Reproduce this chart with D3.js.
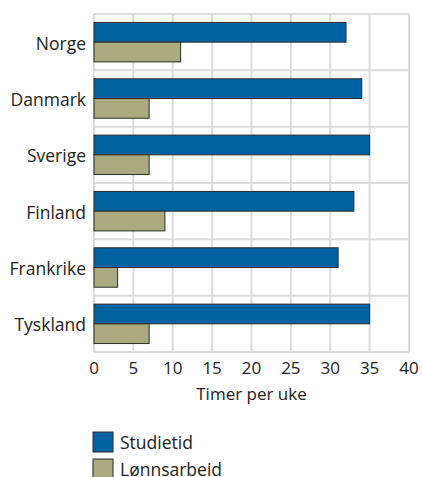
<!DOCTYPE html>
<html>
<head>
<meta charset="utf-8">
<script src="https://cdn.jsdelivr.net/npm/d3@7"></script>
<style>
  body { margin: 0; background: #fff; }
  text { font-family: "Open Sans", sans-serif; fill: #222; }
</style>
</head>
<body>
<div id="chart"></div>
<script>
// Data
const countries = ["Norge", "Danmark", "Sverige", "Finland", "Frankrike", "Tyskland"];
const studietid = [32, 34, 35, 33, 31, 35];
const lonnsarbeid = [11, 7, 7, 9, 3, 7];
const seriesNames = ["Studietid", "Lønnsarbeid"];
const seriesColors = ["#0062a0", "#abab7f"];
const xTicks = [0, 5, 10, 15, 20, 25, 30, 35, 40];

const width = 422;
const height = 477;
const margin = { top: 14, right: 13, bottom: 125, left: 94 };
const plotW = width - margin.left - margin.right;
const plotH = height - margin.top - margin.bottom;

const svg = d3.select("#chart")
    .append("svg")
    .attr("width", width)
    .attr("height", height);

const g = svg.append("g")
    .attr("transform", `translate(${margin.left},${margin.top})`);

const x = d3.scaleLinear().domain([0, 40]).range([0, plotW]);
const y = d3.scaleBand().domain(countries).range([0, plotH]).paddingInner(0.3).paddingOuter(0.15);
const yInner = d3.scaleBand().domain(seriesNames).range([0, y.bandwidth()]);

// grid - vertical lines
g.selectAll("line.vgrid")
    .data(xTicks)
    .enter().append("line")
    .attr("class", "vgrid")
    .attr("x1", d => x(d)).attr("x2", d => x(d))
    .attr("y1", 0).attr("y2", plotH)
    .attr("stroke", "#dcdcdc")
    .attr("stroke-width", 2);

// grid - horizontal lines between categories
const step = plotH / countries.length;
g.selectAll("line.hgrid")
    .data(d3.range(countries.length + 1))
    .enter().append("line")
    .attr("class", "hgrid")
    .attr("x1", 0).attr("x2", plotW)
    .attr("y1", d => d * step).attr("y2", d => d * step)
    .attr("stroke", "#dcdcdc")
    .attr("stroke-width", 2);

const rows = countries.map((c, i) => ({ country: c, values: [studietid[i], lonnsarbeid[i]] }));

const groups = g.selectAll("g.row")
    .data(rows)
    .enter().append("g")
    .attr("class", "row")
    .attr("transform", d => `translate(0,${y(d.country)})`);

groups.selectAll("rect")
    .data(d => d.values.map((v, j) => ({ key: seriesNames[j], value: v, color: seriesColors[j] })))
    .enter().append("rect")
    .attr("x", x(0))
    .attr("y", d => yInner(d.key))
    .attr("width", d => x(d.value) - x(0))
    .attr("height", yInner.bandwidth())
    .attr("fill", d => d.color)
    .attr("stroke", "#2a2a2a")
    .attr("stroke-width", 1);

// category labels
g.selectAll("text.cat")
    .data(countries)
    .enter().append("text")
    .attr("class", "cat")
    .attr("x", -8)
    .attr("y", d => y(d) + y.bandwidth() / 2)
    .attr("dy", "0.42em")
    .attr("text-anchor", "end")
    .style("font-size", "17.5px")
    .text(d => d);

// x tick labels
g.selectAll("text.tick")
    .data(xTicks)
    .enter().append("text")
    .attr("class", "tick")
    .attr("x", d => x(d))
    .attr("y", plotH + 22)
    .attr("text-anchor", "middle")
    .style("font-size", "17px")
    .text(d => d);

// axis title
g.append("text")
    .attr("x", plotW / 2)
    .attr("y", plotH + 48)
    .attr("text-anchor", "middle")
    .style("font-size", "17px")
    .text("Timer per uke");

// legend
const legend = svg.append("g")
    .attr("transform", "translate(93,432)");

seriesNames.forEach((name, i) => {
    legend.append("rect")
        .attr("x", 0)
        .attr("y", i * 27)
        .attr("width", 20)
        .attr("height", 20)
        .attr("fill", seriesColors[i])
        .attr("stroke", "#2a2a2a")
        .attr("stroke-width", 1);
    legend.append("text")
        .attr("x", 27)
        .attr("y", i * 27 + 10)
        .attr("dy", "0.38em")
        .style("font-size", "17.5px")
        .text(name);
});
</script>
</body>
</html>
